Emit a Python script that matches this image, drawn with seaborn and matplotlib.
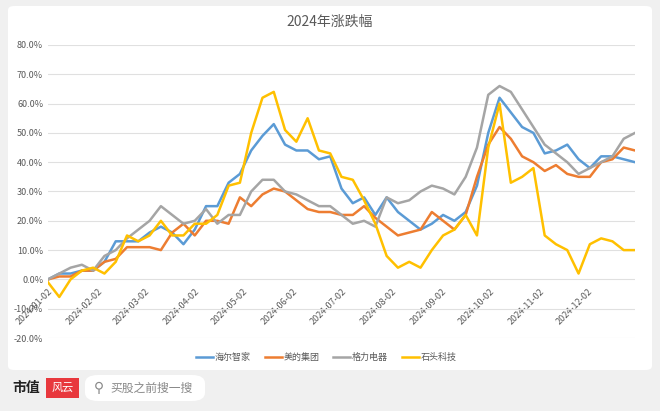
import numpy as np
import pandas as pd
import seaborn as sns
import matplotlib.pyplot as plt
from matplotlib.patches import FancyBboxPatch

plt.rcParams['font.family'] = ['Noto Sans CJK SC', 'DejaVu Sans']

# weekly sample days (offset from 2024-01-02)
day_offsets = list(range(0, 365, 7))

haier = [0, 2, 2, 3, 3, 6, 13, 13, 13, 16, 18, 16, 12, 17, 25, 25, 33, 36, 44, 49,
         53, 46, 44, 44, 41,
         42, 31, 26, 28, 22, 28, 23, 20, 17, 19, 22, 20, 23, 32, 50, 62, 57, 52, 50,
         43, 44, 46, 41, 38, 42, 42, 41, 40]
midea = [0, 1, 1, 3, 3, 6, 7, 11, 11, 11, 10, 16, 19, 15, 20, 20, 19, 28, 25, 29,
         31, 30, 27, 24, 23,
         23, 22, 22, 25, 21, 18, 15, 16, 17, 23, 20, 17, 22, 35, 46, 52, 48, 42, 40,
         37, 39, 36, 35, 35, 40, 41, 45, 44]
gree = [0, 2, 4, 5, 3, 8, 10, 14, 17, 20, 25, 22, 19, 20, 24, 19, 22, 22, 30, 34,
        34, 30, 29, 27, 25,
        25, 22, 19, 20, 18, 28, 26, 27, 30, 32, 31, 29, 35, 45, 63, 66, 64, 58, 52,
        46, 43, 40, 36, 38, 40, 42, 48, 50]
roborock = [-1, -6, 0, 3, 4, 2, 6, 15, 13, 15, 20, 15, 15, 19, 19, 22, 32, 33, 50, 62,
            64, 51, 47, 55, 44,
            43, 35, 34, 27, 19, 8, 4, 6, 4, 10, 15, 17, 22, 15, 45, 60, 33, 35, 38,
            15, 12, 10, 2, 12, 14, 13, 10, 10]

series_names = ['海尔智家', '美的集团', '格力电器', '石头科技']
colors = ['#5b9bd5', '#ed7d31', '#a5a5a5', '#ffc000']
tick_labels = ['2024-01-02', '2024-02-02', '2024-03-02', '2024-04-02', '2024-05-02', '2024-06-02',
               '2024-07-02', '2024-08-02', '2024-09-02', '2024-10-02', '2024-11-02', '2024-12-02']

dates = pd.Timestamp('2024-01-02') + pd.to_timedelta(day_offsets, unit='D')
df = pd.DataFrame({'date': dates, series_names[0]: haier, series_names[1]: midea,
                   series_names[2]: gree, series_names[3]: roborock})
long = df.melt(id_vars='date', var_name='name', value_name='pct')

W, H = 660, 411
fig = plt.figure(figsize=(6.6, 4.11), dpi=100)
fig.patch.set_facecolor('#f0f0f0')
card = FancyBboxPatch((8 / W, 1 - 370 / H), 644 / W, 364 / H,
                      boxstyle='round,pad=0,rounding_size=0.01', transform=fig.transFigure,
                      facecolor='white', edgecolor='none', zorder=-5)
fig.patches.append(card)

ax = fig.add_axes([48 / W, 1 - 338 / H, 587 / W, 293 / H])
ax.set_zorder(3)
ax.set_facecolor('none')
sns.lineplot(data=long, x='date', y='pct', hue='name', palette=colors, linewidth=1.8,
             ax=ax, legend=False)

ax.set_ylim(-20, 80)
ax.set_yticks(np.arange(-20, 81, 10))
ax.set_yticklabels([f'{v:.1f}%' for v in np.arange(-20, 81, 10)])
ax.set_xlim(pd.Timestamp('2024-01-02'), pd.Timestamp('2024-12-31'))
ax.set_xticks(pd.to_datetime(tick_labels))
ax.set_xticklabels(tick_labels, rotation=45, ha='right', rotation_mode='anchor')
ax.tick_params(axis='both', labelsize=6.5, colors='#595959', length=0)
ax.grid(axis='y', color='#e0e0e0', linewidth=0.8)
ax.grid(axis='x', visible=False)
ax.set_axisbelow(True)
for s in ax.spines.values():
    s.set_visible(False)
ax.set_xlabel('')
ax.set_ylabel('')
# x tick labels sit just under the zero line
for lbl in ax.get_xticklabels():
    lbl.set_y(0.19)

fig.text(0.5, 1 - 22 / H, '2024年涨跌幅', ha='center', va='center', fontsize=10, color='#595959')

# legend
lx = [196, 265, 333, 402]
for x0, name, c in zip(lx, series_names, colors):
    fig.add_artist(plt.Line2D([x0 / W, (x0 + 17) / W], [1 - 357 / H] * 2, color=c, lw=1.8,
                              transform=fig.transFigure))
    fig.text((x0 + 19) / W, 1 - 357 / H, name, fontsize=6.5, color='#595959', va='center')

# footer
fig.text(12 / W, 1 - 388 / H, '市值', fontsize=10, fontweight='bold', color='#222222', va='center')
fig.patches.append(FancyBboxPatch((46 / W, 1 - 398 / H), 33 / W, 20 / H,
                                  boxstyle='square,pad=0', transform=fig.transFigure,
                                  facecolor='#e8383d', edgecolor='none'))
fig.text(62.5 / W, 1 - 388 / H, '风云', fontsize=8, color='white', ha='center', va='center',
         style='italic')
fig.patches.append(FancyBboxPatch((85 / W, 1 - 401 / H), 120 / W, 26 / H,
                                  boxstyle='round,pad=0,rounding_size=0.02', transform=fig.transFigure,
                                  facecolor='white', edgecolor='none'))
fig.text(94 / W, 1 - 388 / H, '⚲', fontsize=10, color='#888888', va='center')
fig.text(110 / W, 1 - 388 / H, '买股之前搜一搜', fontsize=8.5, color='#888888', va='center')

fig.savefig('out.png', dpi=100, facecolor=fig.get_facecolor())
